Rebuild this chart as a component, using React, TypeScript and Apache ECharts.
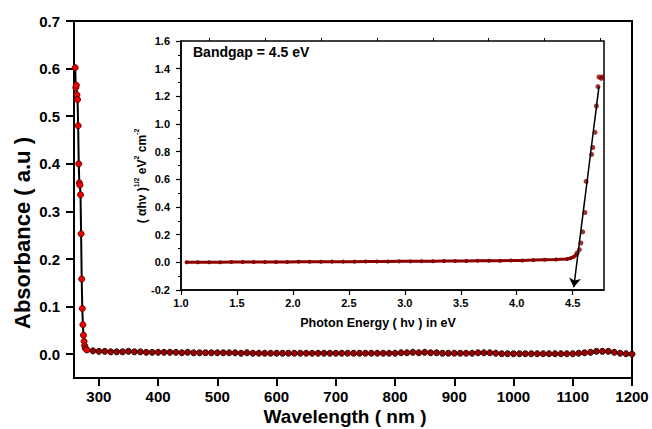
import React, { useEffect, useRef } from "react";
import * as echarts from "echarts";

// Main absorbance spectrum: absorption edge region (nm, a.u.)
const edgeWavelength = [260, 261, 262, 263, 264, 265, 266, 267, 268, 269, 270, 271, 272, 273, 274, 275, 276, 277, 278, 279, 280];
const edgeAbsorbance = [0.602, 0.56, 0.565, 0.545, 0.535, 0.48, 0.4, 0.36, 0.355, 0.335, 0.253, 0.158, 0.096, 0.062, 0.04, 0.027, 0.018, 0.013, 0.011, 0.01, 0.009];

// Main absorbance spectrum: flat tail region
const tailWavelength = [
  290, 300, 310, 320, 330, 340, 350, 360, 370, 380, 390, 400, 410, 420, 430, 440, 450, 460, 470, 480,
  490, 500, 510, 520, 530, 540, 550, 560, 570, 580, 590, 600, 610, 620, 630, 640, 650, 660, 670, 680,
  690, 700, 710, 720, 730, 740, 750, 760, 770, 780, 790, 800, 810, 820, 830, 840, 850, 860, 870, 880,
  890, 900, 910, 920, 930, 940, 950, 960, 970, 980, 990, 1000, 1010, 1020, 1030, 1040, 1050, 1060, 1070, 1080,
  1090, 1100, 1110, 1120, 1130, 1140, 1150, 1160, 1170, 1180, 1190, 1200,
];
const tailAbsorbance = [
  0.007, 0.006, 0.006, 0.005, 0.005, 0.005, 0.006, 0.005, 0.005, 0.004, 0.004, 0.004, 0.004, 0.004, 0.004, 0.003, 0.004, 0.003, 0.003, 0.003,
  0.003, 0.003, 0.003, 0.003, 0.003, 0.002, 0.003, 0.002, 0.002, 0.002, 0.002, 0.002, 0.002, 0.002, 0.002, 0.002, 0.002, 0.002, 0.002, 0.002,
  0.002, 0.002, 0.002, 0.002, 0.002, 0.002, 0.002, 0.002, 0.002, 0.002, 0.002, 0.002, 0.003, 0.003, 0.004, 0.003, 0.004, 0.003, 0.003, 0.002,
  0.002, 0.002, 0.002, 0.002, 0.002, 0.003, 0.003, 0.003, 0.002, 0.001, 0.001, 0.001, 0.001, 0.001, 0.001, 0.001, 0.001, 0.001, 0.001, 0.001,
  0.001, 0.001, 0.002, 0.003, 0.004, 0.006, 0.006, 0.006, 0.004, 0.002, 0.001, 0.0,
];

const wavelengthTicks = [300, 400, 500, 600, 700, 800, 900, 1000, 1100, 1200];
const absorbanceTicks = [0, 0.1, 0.2, 0.3, 0.4, 0.5, 0.6, 0.7];

// Inset: Tauc plot
const insetBaseEnergy = [
  1.05, 1.15, 1.25, 1.35, 1.45, 1.55, 1.65, 1.75, 1.85, 1.95,
  2.05, 2.15, 2.25, 2.35, 2.45, 2.55, 2.65, 2.75, 2.85, 2.95,
  3.05, 3.15, 3.25, 3.35, 3.45, 3.55, 3.65, 3.75, 3.85, 3.95,
  4.05, 4.15, 4.25, 4.35, 4.45, 4.48, 4.51, 4.53,
];
const insetBaseValue = [
  0.0, 0.001, 0.001, 0.001, 0.002, 0.002, 0.002, 0.003, 0.003, 0.003,
  0.004, 0.004, 0.004, 0.005, 0.005, 0.005, 0.006, 0.006, 0.006, 0.007,
  0.007, 0.008, 0.008, 0.009, 0.01, 0.01, 0.011, 0.012, 0.012, 0.013,
  0.014, 0.016, 0.018, 0.02, 0.024, 0.03, 0.04, 0.055,
];
const insetRiseEnergy = [4.54, 4.56, 4.574, 4.59, 4.61, 4.62, 4.67, 4.68, 4.7, 4.712, 4.726, 4.735, 4.756, 4.762];
const insetRiseValue = [0.068, 0.092, 0.14, 0.22, 0.36, 0.585, 0.78, 0.83, 0.94, 1.13, 1.27, 1.34, 1.33, 1.34];

const energyTicks = [1.0, 1.5, 2.0, 2.5, 3.0, 3.5, 4.0, 4.5];
const energyMinorTicks = [1.25, 1.75, 2.25, 2.75, 3.25, 3.75, 4.25, 4.75];
const tangentStart = [4.735, 1.27];
const tangentEnd = [4.51, -0.18];

const FONT = 'Arial, "Liberation Sans", sans-serif';

export default function App() {
  const ref = useRef<HTMLDivElement>(null);

  useEffect(() => {
    if (!ref.current) return;
    const chart = echarts.init(ref.current, undefined, { renderer: "svg" });

    const tailStyle = { color: "#9a0000", borderColor: "#2a0000", borderWidth: 1 };
    const mainData = [
      ...edgeWavelength.map((x, i) => [x, edgeAbsorbance[i]]),
      ...tailWavelength.map((x, i) => ({ value: [x, tailAbsorbance[i]], itemStyle: tailStyle })),
    ];
    const insetBase = insetBaseEnergy.map((x, i) => [x, insetBaseValue[i]]);
    const insetRise = insetRiseEnergy.map((x, i) => [x, insetRiseValue[i]]);

    const mainLabel = { fontFamily: FONT, fontWeight: "bold" as const, color: "#000" };

    chart.setOption({
      animation: false,
      backgroundColor: "#fff",
      grid: [
        { left: 74, top: 21, width: 558, height: 357, show: true, borderColor: "#000", borderWidth: 2, backgroundColor: "transparent" },
        { left: 181, top: 41, width: 423, height: 249, show: true, borderColor: "#000", borderWidth: 1.5, backgroundColor: "#fff" },
      ],
      xAxis: [
        {
          gridIndex: 0, type: "value", min: 258, max: 1200,
          axisLine: { onZero: false, lineStyle: { color: "#000", width: 2 } },
          axisTick: { customValues: wavelengthTicks, length: 8, lineStyle: { color: "#000", width: 2 } },
          axisLabel: { customValues: wavelengthTicks, margin: 11, fontSize: 15, formatter: (v: number) => String(v), ...mainLabel },
          splitLine: { show: false },
        },
        {
          gridIndex: 1, type: "value", min: 1.0, max: 4.78,
          axisLine: { onZero: false, lineStyle: { color: "#000", width: 1.5 } },
          axisTick: { customValues: energyTicks, length: 5, lineStyle: { color: "#000", width: 1.2 } },
          axisLabel: { customValues: energyTicks, margin: 7, fontSize: 11, formatter: (v: number) => v.toFixed(1), ...mainLabel },
          splitLine: { show: false },
        },
        {
          gridIndex: 1, type: "value", min: 1.0, max: 4.78,
          axisLine: { show: false, onZero: false },
          axisTick: { customValues: energyMinorTicks, length: 3, lineStyle: { color: "#000", width: 1 } },
          axisLabel: { show: false },
          splitLine: { show: false },
        },
      ],
      yAxis: [
        {
          gridIndex: 0, type: "value", min: -0.05, max: 0.7,
          axisLine: { onZero: false, lineStyle: { color: "#000", width: 2 } },
          axisTick: { customValues: absorbanceTicks, length: 8, lineStyle: { color: "#000", width: 2 } },
          axisLabel: { customValues: absorbanceTicks, margin: 14, fontSize: 15, formatter: (v: number) => v.toFixed(1), ...mainLabel },
          splitLine: { show: false },
        },
        {
          gridIndex: 1, type: "value", min: -0.2, max: 1.6, interval: 0.2,
          axisLine: { onZero: false, lineStyle: { color: "#000", width: 1.5 } },
          axisTick: { length: 5, lineStyle: { color: "#000", width: 1.2 } },
          minorTick: { show: true, splitNumber: 2, length: 3, lineStyle: { color: "#000", width: 1 } },
          axisLabel: { margin: 11, fontSize: 11, formatter: (v: number) => v.toFixed(1), ...mainLabel },
          splitLine: { show: false },
          minorSplitLine: { show: false },
        },
      ],
      series: [
        {
          type: "line", xAxisIndex: 0, yAxisIndex: 0, data: mainData,
          symbol: "circle", symbolSize: 6, showSymbol: true,
          lineStyle: { color: "#000", width: 2 },
          itemStyle: { color: "#ee0000", borderColor: "#6a0000", borderWidth: 1 },
          z: 3,
        },
        {
          type: "line", xAxisIndex: 1, yAxisIndex: 1, data: insetBase,
          symbol: "circle", symbolSize: 4, showSymbol: true,
          lineStyle: { color: "#8b0000", width: 3 },
          itemStyle: { color: "#8b0000" },
          z: 4,
        },
        {
          type: "scatter", xAxisIndex: 1, yAxisIndex: 1, data: insetRise,
          symbol: "circle", symbolSize: 5,
          itemStyle: { color: "#8b0000" },
          z: 4,
          markLine: {
            silent: true,
            symbol: ["none", "arrow"],
            symbolSize: 9,
            label: { show: false },
            lineStyle: { color: "#000", width: 1.5, type: "solid" },
            data: [[{ coord: tangentStart }, { coord: tangentEnd }]],
          },
        },
      ],
      graphic: [
        {
          type: "text", x: 22, y: 233, rotation: Math.PI / 2,
          style: { text: "Absorbance ( a.u )", fontSize: 22, fontWeight: "bold", fontFamily: FONT, fill: "#000", align: "center", verticalAlign: "middle" },
        },
        {
          type: "text", x: 345, y: 416,
          style: { text: "Wavelength ( nm )", fontSize: 19, fontWeight: "bold", fontFamily: FONT, fill: "#000", align: "center", verticalAlign: "middle" },
        },
        {
          type: "text", x: 378, y: 323,
          style: { text: "Photon Energy ( h\u03bd ) in eV", fontSize: 12.5, fontWeight: "bold", fontFamily: FONT, fill: "#000", align: "center", verticalAlign: "middle" },
        },
        {
          type: "text", x: 193, y: 52,
          style: { text: "Bandgap = 4.5 eV", fontSize: 14, fontWeight: "bold", fontFamily: FONT, fill: "#000", align: "left", verticalAlign: "middle" },
        },
        {
          type: "text", x: 140, y: 176, rotation: Math.PI / 2,
          style: {
            text: "{m|( \u03b1h\u03bd )}{s|1/2}{m| eV}{s|2}{m| cm}{s|-2}",
            align: "center", verticalAlign: "middle", fill: "#000",
            rich: {
              m: { fontSize: 12, fontWeight: "bold", fontFamily: FONT, fill: "#000", lineHeight: 15, verticalAlign: "bottom" },
              s: { fontSize: 7, fontWeight: "bold", fontFamily: FONT, fill: "#000", lineHeight: 15, verticalAlign: "top" },
            },
          },
        },
      ],
    });

    return () => chart.dispose();
  }, []);

  return <div ref={ref} style={{ position: "fixed", left: 0, top: 0, width: 652, height: 429 }} />;
}
